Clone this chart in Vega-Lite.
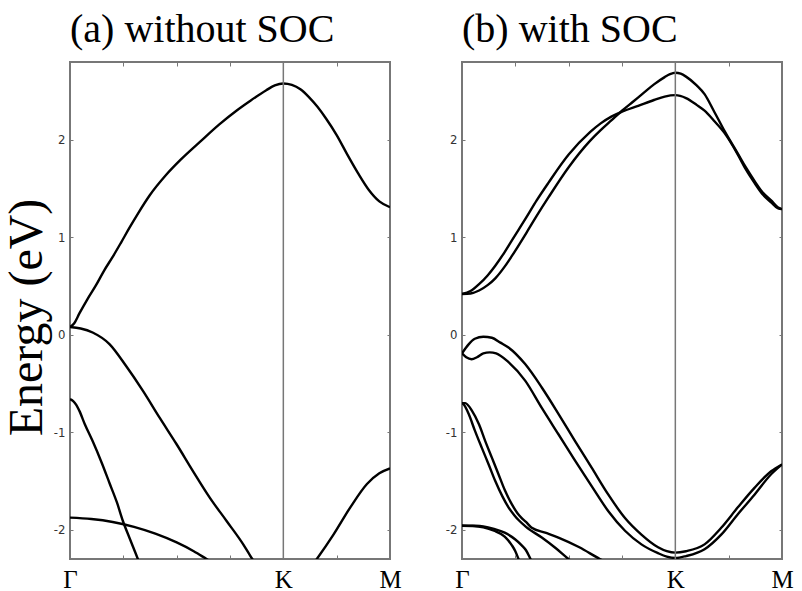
{
  "$schema": "https://vega.github.io/schema/vega-lite/v6.json",
  "padding": {"left": 2, "top": 9, "right": 5, "bottom": 0},
  "background": "white",
  "spacing": 41,
  "config": {
    "view": {"stroke": "#777", "strokeWidth": 2},
    "axis": {"grid": false, "domain": false, "tickColor": "#777", "tickWidth": 1}
  },
  "datasets": {
    "bands": [
      {"p":"a","b":"a1","x":0,"E":0.08},{"p":"a","b":"a1","x":0.02,"E":0.12},{"p":"a","b":"a1","x":0.044,"E":0.22},{"p":"a","b":"a1","x":0.08,"E":0.36},{"p":"a","b":"a1","x":0.122,"E":0.51},{"p":"a","b":"a1","x":0.16,"E":0.66},{"p":"a","b":"a1","x":0.2,"E":0.8},{"p":"a","b":"a1","x":0.24,"E":0.95},{"p":"a","b":"a1","x":0.279,"E":1.1},{"p":"a","b":"a1","x":0.32,"E":1.25},{"p":"a","b":"a1","x":0.373,"E":1.43},{"p":"a","b":"a1","x":0.45,"E":1.64},{"p":"a","b":"a1","x":0.52,"E":1.8},{"p":"a","b":"a1","x":0.609,"E":1.98},{"p":"a","b":"a1","x":0.7,"E":2.16},{"p":"a","b":"a1","x":0.78,"E":2.3},{"p":"a","b":"a1","x":0.844,"E":2.4},{"p":"a","b":"a1","x":0.92,"E":2.51},{"p":"a","b":"a1","x":0.96,"E":2.56},{"p":"a","b":"a1","x":1.0,"E":2.58},{"p":"a","b":"a1","x":1.04,"E":2.565},{"p":"a","b":"a1","x":1.08,"E":2.52},{"p":"a","b":"a1","x":1.12,"E":2.44},{"p":"a","b":"a1","x":1.16,"E":2.34},{"p":"a","b":"a1","x":1.2,"E":2.22},{"p":"a","b":"a1","x":1.25,"E":2.05},{"p":"a","b":"a1","x":1.3,"E":1.85},{"p":"a","b":"a1","x":1.35,"E":1.66},{"p":"a","b":"a1","x":1.4,"E":1.49},{"p":"a","b":"a1","x":1.45,"E":1.37},{"p":"a","b":"a1","x":1.5,"E":1.31},
      {"p":"a","b":"a2","x":0,"E":0.08},{"p":"a","b":"a2","x":0.05,"E":0.065},{"p":"a","b":"a2","x":0.106,"E":0.024},{"p":"a","b":"a2","x":0.185,"E":-0.095},{"p":"a","b":"a2","x":0.263,"E":-0.32},{"p":"a","b":"a2","x":0.342,"E":-0.575},{"p":"a","b":"a2","x":0.42,"E":-0.85},{"p":"a","b":"a2","x":0.499,"E":-1.12},{"p":"a","b":"a2","x":0.577,"E":-1.4},{"p":"a","b":"a2","x":0.655,"E":-1.67},{"p":"a","b":"a2","x":0.734,"E":-1.91},{"p":"a","b":"a2","x":0.812,"E":-2.15},{"p":"a","b":"a2","x":0.843,"E":-2.26},{"p":"a","b":"a2","x":0.9,"E":-2.45},{"p":"a","b":"a2","x":0.95,"E":-2.6},{"p":"a","b":"a2","x":1.0,"E":-2.65},{"p":"a","b":"a2","x":1.05,"E":-2.6},{"p":"a","b":"a2","x":1.1,"E":-2.47},{"p":"a","b":"a2","x":1.157,"E":-2.3},{"p":"a","b":"a2","x":1.235,"E":-2.05},{"p":"a","b":"a2","x":1.314,"E":-1.77},{"p":"a","b":"a2","x":1.392,"E":-1.53},{"p":"a","b":"a2","x":1.45,"E":-1.42},{"p":"a","b":"a2","x":1.5,"E":-1.37},
      {"p":"a","b":"a4","x":0,"E":-0.66},{"p":"a","b":"a4","x":0.015,"E":-0.68},{"p":"a","b":"a4","x":0.03,"E":-0.72},{"p":"a","b":"a4","x":0.044,"E":-0.78},{"p":"a","b":"a4","x":0.07,"E":-0.92},{"p":"a","b":"a4","x":0.106,"E":-1.09},{"p":"a","b":"a4","x":0.15,"E":-1.32},{"p":"a","b":"a4","x":0.185,"E":-1.52},{"p":"a","b":"a4","x":0.22,"E":-1.72},{"p":"a","b":"a4","x":0.248,"E":-1.91},{"p":"a","b":"a4","x":0.28,"E":-2.09},{"p":"a","b":"a4","x":0.318,"E":-2.3},{"p":"a","b":"a4","x":0.34,"E":-2.43},
      {"p":"a","b":"a5","x":0,"E":-1.875},{"p":"a","b":"a5","x":0.1,"E":-1.89},{"p":"a","b":"a5","x":0.2,"E":-1.92},{"p":"a","b":"a5","x":0.3,"E":-1.97},{"p":"a","b":"a5","x":0.4,"E":-2.04},{"p":"a","b":"a5","x":0.5,"E":-2.13},{"p":"a","b":"a5","x":0.58,"E":-2.22},{"p":"a","b":"a5","x":0.64,"E":-2.3},{"p":"a","b":"a5","x":0.7,"E":-2.38},
      {"p":"b","b":"P","x":0,"E":0.42},{"p":"b","b":"P","x":0.04,"E":0.45},{"p":"b","b":"P","x":0.08,"E":0.52},{"p":"b","b":"P","x":0.12,"E":0.61},{"p":"b","b":"P","x":0.156,"E":0.71},{"p":"b","b":"P","x":0.2,"E":0.85},{"p":"b","b":"P","x":0.234,"E":0.97},{"p":"b","b":"P","x":0.3,"E":1.2},{"p":"b","b":"P","x":0.35,"E":1.38},{"p":"b","b":"P","x":0.405,"E":1.56},{"p":"b","b":"P","x":0.5,"E":1.85},{"p":"b","b":"P","x":0.6,"E":2.08},{"p":"b","b":"P","x":0.65,"E":2.17},{"p":"b","b":"P","x":0.7,"E":2.24},{"p":"b","b":"P","x":0.75,"E":2.29},{"p":"b","b":"P","x":0.826,"E":2.35},{"p":"b","b":"P","x":0.9,"E":2.41},{"p":"b","b":"P","x":0.95,"E":2.445},{"p":"b","b":"P","x":1.0,"E":2.46},{"p":"b","b":"P","x":1.05,"E":2.43},{"p":"b","b":"P","x":1.1,"E":2.36},{"p":"b","b":"P","x":1.137,"E":2.3},{"p":"b","b":"P","x":1.18,"E":2.2},{"p":"b","b":"P","x":1.231,"E":2.07},{"p":"b","b":"P","x":1.293,"E":1.85},{"p":"b","b":"P","x":1.33,"E":1.7},{"p":"b","b":"P","x":1.371,"E":1.56},{"p":"b","b":"P","x":1.41,"E":1.44},{"p":"b","b":"P","x":1.449,"E":1.36},{"p":"b","b":"P","x":1.48,"E":1.3},{"p":"b","b":"P","x":1.5,"E":1.29},
      {"p":"b","b":"Q","x":0,"E":0.42},{"p":"b","b":"Q","x":0.04,"E":0.425},{"p":"b","b":"Q","x":0.08,"E":0.455},{"p":"b","b":"Q","x":0.12,"E":0.51},{"p":"b","b":"Q","x":0.156,"E":0.58},{"p":"b","b":"Q","x":0.2,"E":0.7},{"p":"b","b":"Q","x":0.234,"E":0.81},{"p":"b","b":"Q","x":0.3,"E":1.04},{"p":"b","b":"Q","x":0.35,"E":1.22},{"p":"b","b":"Q","x":0.405,"E":1.41},{"p":"b","b":"Q","x":0.5,"E":1.72},{"p":"b","b":"Q","x":0.6,"E":1.99},{"p":"b","b":"Q","x":0.65,"E":2.1},{"p":"b","b":"Q","x":0.7,"E":2.2},{"p":"b","b":"Q","x":0.75,"E":2.3},{"p":"b","b":"Q","x":0.8,"E":2.39},{"p":"b","b":"Q","x":0.85,"E":2.48},{"p":"b","b":"Q","x":0.9,"E":2.57},{"p":"b","b":"Q","x":0.95,"E":2.645},{"p":"b","b":"Q","x":0.975,"E":2.675},{"p":"b","b":"Q","x":1.0,"E":2.69},{"p":"b","b":"Q","x":1.025,"E":2.68},{"p":"b","b":"Q","x":1.05,"E":2.65},{"p":"b","b":"Q","x":1.1,"E":2.56},{"p":"b","b":"Q","x":1.137,"E":2.47},{"p":"b","b":"Q","x":1.18,"E":2.3},{"p":"b","b":"Q","x":1.231,"E":2.09},{"p":"b","b":"Q","x":1.293,"E":1.86},{"p":"b","b":"Q","x":1.33,"E":1.72},{"p":"b","b":"Q","x":1.371,"E":1.58},{"p":"b","b":"Q","x":1.41,"E":1.46},{"p":"b","b":"Q","x":1.449,"E":1.38},{"p":"b","b":"Q","x":1.48,"E":1.31},{"p":"b","b":"Q","x":1.5,"E":1.29},
      {"p":"b","b":"V1","x":0,"E":-0.19},{"p":"b","b":"V1","x":0.03,"E":-0.1},{"p":"b","b":"V1","x":0.06,"E":-0.04},{"p":"b","b":"V1","x":0.1,"E":-0.02},{"p":"b","b":"V1","x":0.14,"E":-0.03},{"p":"b","b":"V1","x":0.18,"E":-0.08},{"p":"b","b":"V1","x":0.218,"E":-0.13},{"p":"b","b":"V1","x":0.296,"E":-0.3},{"p":"b","b":"V1","x":0.374,"E":-0.54},{"p":"b","b":"V1","x":0.452,"E":-0.81},{"p":"b","b":"V1","x":0.53,"E":-1.09},{"p":"b","b":"V1","x":0.607,"E":-1.36},{"p":"b","b":"V1","x":0.686,"E":-1.64},{"p":"b","b":"V1","x":0.764,"E":-1.88},{"p":"b","b":"V1","x":0.841,"E":-2.05},{"p":"b","b":"V1","x":0.919,"E":-2.18},{"p":"b","b":"V1","x":0.96,"E":-2.22},{"p":"b","b":"V1","x":1.0,"E":-2.235},{"p":"b","b":"V1","x":1.05,"E":-2.22},{"p":"b","b":"V1","x":1.137,"E":-2.15},{"p":"b","b":"V1","x":1.215,"E":-1.98},{"p":"b","b":"V1","x":1.293,"E":-1.77},{"p":"b","b":"V1","x":1.371,"E":-1.57},{"p":"b","b":"V1","x":1.449,"E":-1.4},{"p":"b","b":"V1","x":1.5,"E":-1.33},
      {"p":"b","b":"V2","x":0,"E":-0.19},{"p":"b","b":"V2","x":0.02,"E":-0.23},{"p":"b","b":"V2","x":0.045,"E":-0.25},{"p":"b","b":"V2","x":0.07,"E":-0.23},{"p":"b","b":"V2","x":0.1,"E":-0.19},{"p":"b","b":"V2","x":0.13,"E":-0.18},{"p":"b","b":"V2","x":0.16,"E":-0.19},{"p":"b","b":"V2","x":0.218,"E":-0.28},{"p":"b","b":"V2","x":0.296,"E":-0.47},{"p":"b","b":"V2","x":0.374,"E":-0.75},{"p":"b","b":"V2","x":0.452,"E":-1.02},{"p":"b","b":"V2","x":0.53,"E":-1.29},{"p":"b","b":"V2","x":0.607,"E":-1.55},{"p":"b","b":"V2","x":0.686,"E":-1.81},{"p":"b","b":"V2","x":0.764,"E":-2.01},{"p":"b","b":"V2","x":0.841,"E":-2.15},{"p":"b","b":"V2","x":0.919,"E":-2.24},{"p":"b","b":"V2","x":0.96,"E":-2.275},{"p":"b","b":"V2","x":1.0,"E":-2.29},{"p":"b","b":"V2","x":1.05,"E":-2.27},{"p":"b","b":"V2","x":1.137,"E":-2.2},{"p":"b","b":"V2","x":1.215,"E":-2.05},{"p":"b","b":"V2","x":1.293,"E":-1.84},{"p":"b","b":"V2","x":1.371,"E":-1.64},{"p":"b","b":"V2","x":1.449,"E":-1.43},{"p":"b","b":"V2","x":1.5,"E":-1.33},
      {"p":"b","b":"S1","x":0,"E":-0.7},{"p":"b","b":"S1","x":0.015,"E":-0.7},{"p":"b","b":"S1","x":0.047,"E":-0.78},{"p":"b","b":"S1","x":0.08,"E":-0.92},{"p":"b","b":"S1","x":0.109,"E":-1.09},{"p":"b","b":"S1","x":0.14,"E":-1.26},{"p":"b","b":"S1","x":0.171,"E":-1.43},{"p":"b","b":"S1","x":0.2,"E":-1.59},{"p":"b","b":"S1","x":0.234,"E":-1.74},{"p":"b","b":"S1","x":0.26,"E":-1.83},{"p":"b","b":"S1","x":0.28,"E":-1.88},{"p":"b","b":"S1","x":0.3,"E":-1.92},{"p":"b","b":"S1","x":0.327,"E":-1.98},{"p":"b","b":"S1","x":0.39,"E":-2.03},{"p":"b","b":"S1","x":0.452,"E":-2.08},{"p":"b","b":"S1","x":0.55,"E":-2.18},{"p":"b","b":"S1","x":0.646,"E":-2.3},{"p":"b","b":"S1","x":0.7,"E":-2.36},
      {"p":"b","b":"S2","x":0,"E":-0.7},{"p":"b","b":"S2","x":0.01,"E":-0.72},{"p":"b","b":"S2","x":0.031,"E":-0.81},{"p":"b","b":"S2","x":0.06,"E":-0.98},{"p":"b","b":"S2","x":0.093,"E":-1.16},{"p":"b","b":"S2","x":0.125,"E":-1.33},{"p":"b","b":"S2","x":0.156,"E":-1.5},{"p":"b","b":"S2","x":0.19,"E":-1.66},{"p":"b","b":"S2","x":0.218,"E":-1.77},{"p":"b","b":"S2","x":0.245,"E":-1.85},{"p":"b","b":"S2","x":0.265,"E":-1.9},{"p":"b","b":"S2","x":0.3,"E":-1.97},{"p":"b","b":"S2","x":0.374,"E":-2.08},{"p":"b","b":"S2","x":0.44,"E":-2.19},{"p":"b","b":"S2","x":0.499,"E":-2.3},{"p":"b","b":"S2","x":0.54,"E":-2.37},
      {"p":"b","b":"F1","x":0,"E":-1.96},{"p":"b","b":"F1","x":0.05,"E":-1.962},{"p":"b","b":"F1","x":0.1,"E":-1.975},{"p":"b","b":"F1","x":0.15,"E":-2.01},{"p":"b","b":"F1","x":0.2,"E":-2.07},{"p":"b","b":"F1","x":0.234,"E":-2.16},{"p":"b","b":"F1","x":0.25,"E":-2.22},{"p":"b","b":"F1","x":0.265,"E":-2.3},{"p":"b","b":"F1","x":0.28,"E":-2.38},
      {"p":"b","b":"F2","x":0,"E":-1.955},{"p":"b","b":"F2","x":0.05,"E":-1.958},{"p":"b","b":"F2","x":0.1,"E":-1.965},{"p":"b","b":"F2","x":0.15,"E":-1.99},{"p":"b","b":"F2","x":0.2,"E":-2.03},{"p":"b","b":"F2","x":0.25,"E":-2.1},{"p":"b","b":"F2","x":0.28,"E":-2.16},{"p":"b","b":"F2","x":0.3,"E":-2.21},{"p":"b","b":"F2","x":0.321,"E":-2.3},{"p":"b","b":"F2","x":0.34,"E":-2.38}
    ]
  },
  "hconcat": [
    {
      "width": 320, "height": 497,
      "title": {"text": "(a) without SOC", "anchor": "start", "frame": "group", "font": "Liberation Serif", "fontSize": 40, "fontWeight": "normal", "color": "black", "offset": 11},
      "layer": [
        {
          "data": {"name": "bands"},
          "transform": [{"filter": "datum.p == 'a'"}],
          "mark": {"type": "line", "color": "black", "strokeWidth": 2.4, "clip": true, "interpolate": "monotone"},
          "encoding": {
            "x": {"field": "x", "type": "quantitative", "scale": {"domain": [0, 1.5], "nice": false, "zero": false},
              "axis": {"orient": "bottom", "values": [0, 0.25, 0.5, 0.75, 1, 1.25, 1.5], "labelExpr": "datum.value == 0 ? 'Γ' : datum.value == 1 ? 'K' : datum.value == 1.5 ? 'M' : ''", "labelFont": "Liberation Serif", "labelFontSize": 25, "labelColor": "black", "labelFlush": false, "labelOverlap": false, "labelBound": false, "tickSize": -4, "labelPadding": 12, "title": null}},
            "y": {"field": "E", "type": "quantitative", "scale": {"domain": [-2.3, 2.8], "nice": false, "zero": false},
              "axis": {"orient": "left", "values": [-2, -1, 0, 1, 2], "labelExpr": "'' + datum.value", "labelFont": "DejaVu Sans Condensed", "labelFontSize": 13, "labelColor": "#333", "tickSize": -3, "labelPadding": 8, "title": "Energy (eV)", "titleFont": "Liberation Serif", "titleFontSize": 48, "titleFontWeight": "normal", "titleColor": "black", "titlePadding": 2, "titleY": 255}},
            "detail": {"field": "b"}
          }
        },
        {
          "data": {"values": [{"point": "K"}]},
          "mark": {"type": "rule", "color": "#777", "strokeWidth": 1.5},
          "encoding": {
            "x": {"datum": 1, "type": "quantitative", "scale": {"domain": [0, 1.5], "nice": false, "zero": false},
              "axis": {"orient": "top", "values": [0, 0.25, 0.5, 0.75, 1, 1.25, 1.5], "labels": false, "tickSize": -4, "title": null}},
            "y": {"datum": -2.3, "type": "quantitative", "scale": {"domain": [-2.3, 2.8], "nice": false, "zero": false},
              "axis": {"orient": "right", "values": [-2, -1, 0, 1, 2], "labels": false, "tickSize": -3, "title": null}},
            "y2": {"datum": 2.8}
          }
        }
      ],
      "resolve": {"axis": {"x": "independent", "y": "independent"}}
    },
    {
      "width": 320, "height": 497,
      "title": {"text": "(b) with SOC", "anchor": "start", "frame": "group", "font": "Liberation Serif", "fontSize": 40, "fontWeight": "normal", "color": "black", "offset": 11},
      "layer": [
        {
          "data": {"name": "bands"},
          "transform": [{"filter": "datum.p == 'b'"}],
          "mark": {"type": "line", "color": "black", "strokeWidth": 2.4, "clip": true, "interpolate": "monotone"},
          "encoding": {
            "x": {"field": "x", "type": "quantitative", "scale": {"domain": [0, 1.5], "nice": false, "zero": false},
              "axis": {"orient": "bottom", "values": [0, 0.25, 0.5, 0.75, 1, 1.25, 1.5], "labelExpr": "datum.value == 0 ? 'Γ' : datum.value == 1 ? 'K' : datum.value == 1.5 ? 'M' : ''", "labelFont": "Liberation Serif", "labelFontSize": 25, "labelColor": "black", "labelFlush": false, "labelOverlap": false, "labelBound": false, "tickSize": -4, "labelPadding": 12, "title": null}},
            "y": {"field": "E", "type": "quantitative", "scale": {"domain": [-2.3, 2.8], "nice": false, "zero": false},
              "axis": {"orient": "left", "values": [-2, -1, 0, 1, 2], "labelExpr": "'' + datum.value", "labelFont": "DejaVu Sans Condensed", "labelFontSize": 13, "labelColor": "#333", "tickSize": -3, "labelPadding": 8, "title": null}},
            "detail": {"field": "b"}
          }
        },
        {
          "data": {"values": [{"point": "K"}]},
          "mark": {"type": "rule", "color": "#777", "strokeWidth": 1.5},
          "encoding": {
            "x": {"datum": 1, "type": "quantitative", "scale": {"domain": [0, 1.5], "nice": false, "zero": false},
              "axis": {"orient": "top", "values": [0, 0.25, 0.5, 0.75, 1, 1.25, 1.5], "labels": false, "tickSize": -4, "title": null}},
            "y": {"datum": -2.3, "type": "quantitative", "scale": {"domain": [-2.3, 2.8], "nice": false, "zero": false},
              "axis": {"orient": "right", "values": [-2, -1, 0, 1, 2], "labels": false, "tickSize": -3, "title": null}},
            "y2": {"datum": 2.8}
          }
        }
      ],
      "resolve": {"axis": {"x": "independent", "y": "independent"}}
    }
  ]
}
